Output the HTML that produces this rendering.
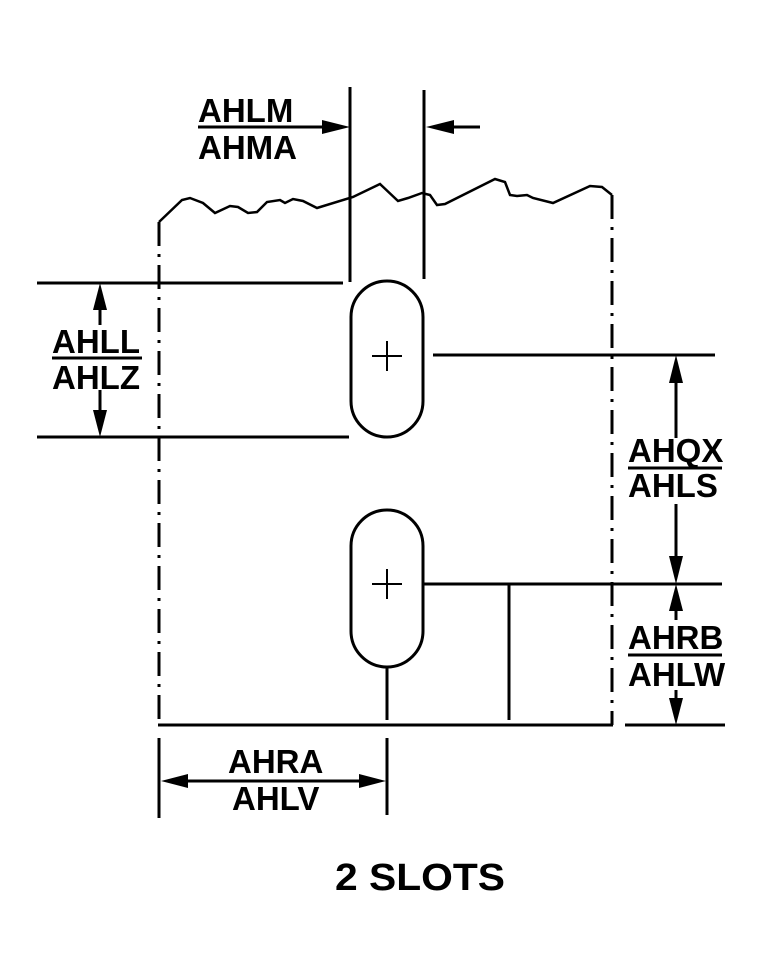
<!DOCTYPE html>
<html><head><style>
html,body{margin:0;padding:0;background:#fff;}
svg{display:block;}
text{font-family:"Liberation Sans",Arial,sans-serif;font-weight:bold;fill:#000;}
</style></head><body>
<svg width="760" height="960" viewBox="0 0 760 960" xmlns="http://www.w3.org/2000/svg">
<g stroke="#000" stroke-width="3" fill="none">
<polyline stroke-width="2.5" points="159,222 182,200 190,198 203,203 215,213 230,206 238,207 248,213 257,212 267,202 280,200 285,203 293,199 303,201 317,208 353,197 380,184 398,201 408,198 422,193 430,195 437,205 445,204 495,179 505,182 510,195 517,196 527,195 533,198 553,203 590,186 602,187 612,195"/>
<line x1="159" y1="222" x2="159" y2="725" stroke-dasharray="24 8 3 8"/>
<line x1="612" y1="195" x2="612" y2="725" stroke-dasharray="24 8 3 8"/>
<rect x="351" y="281" width="72" height="156" rx="36" ry="36"/>
<rect x="351" y="510" width="72" height="157" rx="36" ry="36"/>
<g stroke-width="2">
<line x1="372" y1="356" x2="402" y2="356"/><line x1="387" y1="341" x2="387" y2="371"/>
<line x1="372" y1="584" x2="402" y2="584"/><line x1="387" y1="569" x2="387" y2="599"/>
</g>
<line x1="37" y1="283" x2="343" y2="283"/>
<line x1="37" y1="437" x2="349" y2="437"/>
<line x1="350" y1="87" x2="350" y2="282"/>
<line x1="424" y1="90" x2="424" y2="279"/>
<line x1="200" y1="127" x2="330" y2="127"/>
<line x1="445" y1="127" x2="480" y2="127"/>
<line x1="433" y1="355" x2="715" y2="355"/>
<line x1="423" y1="584" x2="722" y2="584"/>
<line x1="509" y1="584" x2="509" y2="720"/>
<line x1="158" y1="725" x2="613" y2="725"/>
<line x1="625" y1="725" x2="725" y2="725"/>
<line x1="387" y1="667" x2="387" y2="720"/>
<line x1="387" y1="738" x2="387" y2="815"/>
<line x1="159" y1="738" x2="159" y2="818"/>
<line x1="100" y1="300" x2="100" y2="325"/>
<line x1="100" y1="390" x2="100" y2="420"/>
<line x1="676" y1="375" x2="676" y2="438"/>
<line x1="676" y1="504" x2="676" y2="565"/>
<line x1="676" y1="600" x2="676" y2="620"/>
<line x1="676" y1="690" x2="676" y2="708"/>
<line x1="180" y1="781" x2="366" y2="781"/>
<line x1="198" y1="127" x2="296" y2="127"/>
<line x1="52" y1="358" x2="142" y2="358"/>
<line x1="628" y1="468" x2="722" y2="468"/>
<line x1="628" y1="655" x2="722" y2="655"/>
</g>
<g fill="#000">
<polygon points="350,127 322,120 322,134"/>
<polygon points="426,127 454,120 454,134"/>
<polygon points="100,283 93,310 107,310"/>
<polygon points="100,437 93,410 107,410"/>
<polygon points="676,355 669,383 683,383"/>
<polygon points="676,584 669,556 683,556"/>
<polygon points="676,584 669,611 683,611"/>
<polygon points="676,725 669,698 683,698"/>
<polygon points="161,781 188,774 188,788"/>
<polygon points="386,781 359,774 359,788"/>
</g>
<g font-size="33">
<text x="198" y="122">AHLM</text>
<text x="198" y="159">AHMA</text>
<text x="52" y="353">AHLL</text>
<text x="52" y="389">AHLZ</text>
<text x="628" y="462">AHQX</text>
<text x="628" y="497">AHLS</text>
<text x="628" y="649">AHRB</text>
<text x="628" y="686">AHLW</text>
<text x="228" y="773">AHRA</text>
<text x="232" y="810">AHLV</text>
</g>
<text x="335" y="890" font-size="38" textLength="170" lengthAdjust="spacingAndGlyphs">2 SLOTS</text>
</svg>
</body></html>
